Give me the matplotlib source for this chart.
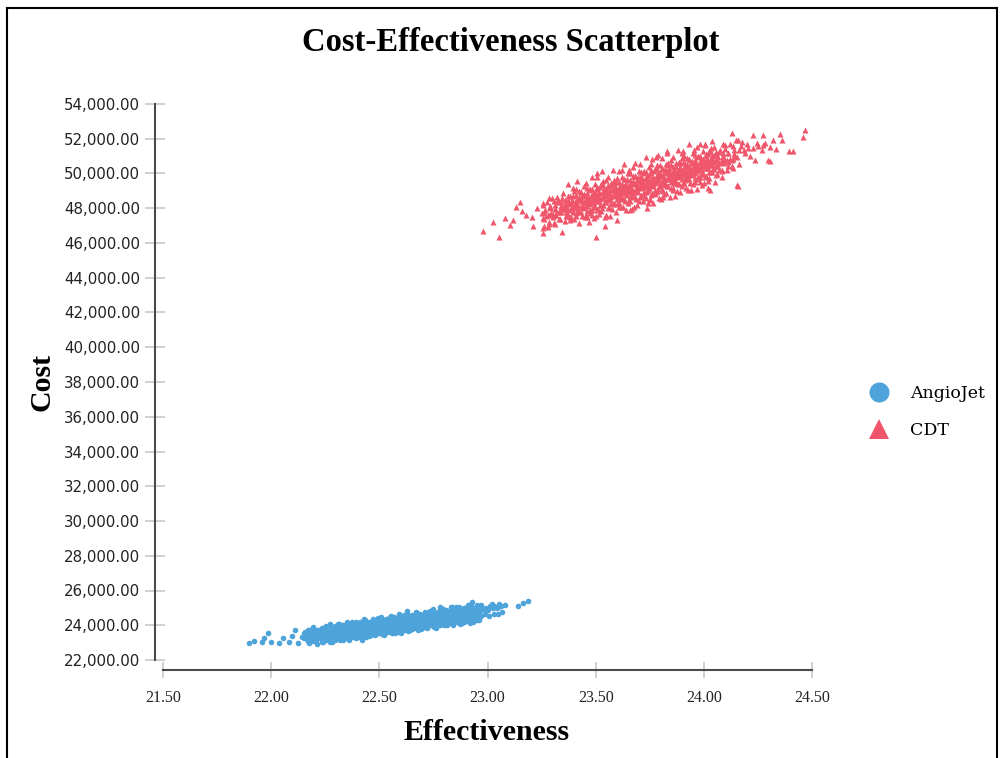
import matplotlib
matplotlib.use("Agg")
import matplotlib.pyplot as plt
from matplotlib.lines import Line2D

# ---------------- data ----------------
series_names = ["AngioJet", "CDT"]
x_ticks = [21.5, 22.0, 22.5, 23.0, 23.5, 24.0, 24.5]
y_ticks = [22000, 24000, 26000, 28000, 30000, 32000, 34000, 36000, 38000,
           40000, 42000, 44000, 46000, 48000, 50000, 52000, 54000]

angiojet_effect = [
    22.168, 22.154, 22.164, 22.151, 22.188, 22.174, 22.184, 22.171,
    22.208, 22.194, 22.204, 22.191, 22.228, 22.214, 22.224, 22.211,
    22.240, 22.248, 22.234, 22.244, 22.231, 22.250, 22.237,
    22.260, 22.268, 22.254, 22.264, 22.251, 22.270, 22.257,
    22.280, 22.288, 22.274, 22.284, 22.271, 22.290, 22.277,
    22.300, 22.308, 22.294, 22.304, 22.291, 22.310, 22.297,
    22.320, 22.328, 22.314, 22.324, 22.311, 22.330, 22.317,
    22.340, 22.348, 22.334, 22.344, 22.331, 22.350, 22.337,
    22.360, 22.368, 22.354, 22.364, 22.351, 22.370, 22.357,
    22.380, 22.388, 22.374, 22.384, 22.371, 22.390, 22.377,
    22.400, 22.408, 22.394, 22.404, 22.391, 22.410, 22.397,
    22.420, 22.428, 22.414, 22.424, 22.411, 22.430, 22.417,
    22.440, 22.448, 22.434, 22.444, 22.431, 22.450, 22.437,
    22.460, 22.468, 22.454, 22.464, 22.451, 22.470, 22.457,
    22.480, 22.488, 22.474, 22.484, 22.471, 22.490, 22.477,
    22.500, 22.508, 22.494, 22.504, 22.491, 22.510, 22.497,
    22.520, 22.528, 22.514, 22.524, 22.511, 22.530, 22.517,
    22.540, 22.548, 22.534, 22.544, 22.531, 22.550, 22.537,
    22.560, 22.568, 22.554, 22.564, 22.551, 22.570, 22.557,
    22.580, 22.588, 22.574, 22.584, 22.571, 22.590, 22.577,
    22.600, 22.608, 22.594, 22.604, 22.591, 22.610, 22.597,
    22.620, 22.628, 22.614, 22.624, 22.611, 22.630, 22.617,
    22.640, 22.648, 22.634, 22.644, 22.631, 22.650, 22.637,
    22.660, 22.668, 22.654, 22.664, 22.651, 22.670, 22.657,
    22.680, 22.688, 22.674, 22.684, 22.671, 22.690, 22.677,
    22.700, 22.708, 22.694, 22.704, 22.691, 22.710, 22.697,
    22.720, 22.728, 22.714, 22.724, 22.711, 22.730, 22.717,
    22.740, 22.748, 22.734, 22.744, 22.731, 22.750, 22.737,
    22.760, 22.768, 22.754, 22.764, 22.751, 22.770, 22.757,
    22.780, 22.788, 22.774, 22.784, 22.771, 22.790, 22.777,
    22.800, 22.808, 22.794, 22.804, 22.791, 22.810, 22.797,
    22.820, 22.828, 22.814, 22.824, 22.811, 22.830,
    22.840, 22.848, 22.834, 22.844, 22.831, 22.850,
    22.860, 22.868, 22.854, 22.864, 22.851, 22.870,
    22.880, 22.888, 22.874, 22.884, 22.871, 22.890,
    22.900, 22.908, 22.894, 22.904, 22.891, 22.910,
    22.920, 22.928, 22.914, 22.924, 22.911, 22.930,
    22.940, 22.948, 22.934, 22.944, 22.931, 22.950,
    22.960, 22.968, 22.954, 22.964, 22.951, 22.970,
    22.988, 22.984, 22.971, 23.008, 23.004, 22.991,
    23.028, 23.024, 23.011, 23.048, 23.044, 23.031,
    23.068, 23.064, 23.051,
    21.898, 21.921, 21.958, 21.967, 21.985, 21.999, 22.036, 22.055,
    22.082, 22.096, 22.110, 22.124, 22.143, 22.156, 22.170,
    23.141, 23.164, 23.187, 23.081, 23.049, 23.021, 22.928, 22.836,
    22.780, 22.628, 22.420, 22.586,
    22.173, 22.166, 22.176, 22.168, 22.175, 22.193, 22.186, 22.196, 22.188, 22.195,
    22.213, 22.206, 22.216, 22.208, 22.215, 22.233, 22.226, 22.236, 22.228, 22.235,
    22.253, 22.246, 22.256, 22.248, 22.255, 22.273, 22.266, 22.276, 22.268, 22.275,
    22.293, 22.286, 22.296, 22.288, 22.295, 22.313, 22.306, 22.316, 22.308, 22.315,
    22.333, 22.326, 22.336, 22.328, 22.335, 22.353, 22.346, 22.356, 22.348, 22.355,
    22.373, 22.366, 22.376, 22.368, 22.375, 22.393, 22.386, 22.396, 22.388, 22.395,
    22.413, 22.406, 22.416, 22.408, 22.415, 22.433, 22.426, 22.436, 22.428, 22.435,
    22.453, 22.446, 22.456, 22.448, 22.455, 22.473, 22.466, 22.476, 22.468, 22.475,
    22.493, 22.486, 22.496, 22.488, 22.495, 22.513, 22.506, 22.516, 22.508, 22.515,
    22.533, 22.526, 22.536, 22.528, 22.535, 22.553, 22.546, 22.556, 22.548, 22.555,
    22.573, 22.566, 22.576, 22.568, 22.575, 22.593, 22.586, 22.596, 22.588, 22.595,
    22.613, 22.606, 22.616, 22.608, 22.615, 22.633, 22.626, 22.636, 22.628, 22.635,
    22.653, 22.646, 22.656, 22.648, 22.655, 22.673, 22.666, 22.676, 22.668, 22.675,
    22.693, 22.686, 22.696, 22.688, 22.695, 22.713, 22.706, 22.716, 22.708, 22.715,
    22.733, 22.726, 22.736, 22.728, 22.735, 22.753, 22.746, 22.756, 22.748, 22.755,
    22.773, 22.766, 22.776, 22.768, 22.775, 22.793, 22.786, 22.796, 22.788, 22.795,
    22.813, 22.806, 22.816, 22.808, 22.815, 22.833, 22.826, 22.836, 22.828, 22.835,
    22.853, 22.846, 22.856, 22.848, 22.855, 22.873, 22.866, 22.876, 22.868, 22.875,
    22.893, 22.886, 22.896, 22.888, 22.895, 22.913, 22.906, 22.916, 22.908, 22.915,
    22.933, 22.926, 22.936, 22.928, 22.935, 22.953, 22.946, 22.956, 22.948, 22.955,
]
angiojet_cost = [
    23105, 23275, 23425, 23575, 23220, 23390, 23540, 23710,
    23125, 23305, 23455, 23605, 23250, 23420, 23570, 23730,
    23015, 23245, 23415, 23565, 23715, 23895, 23335,
    23150, 23360, 23530, 23680, 23850, 24070, 23470,
    23015, 23265, 23445, 23595, 23745, 23925, 23675,
    23180, 23390, 23560, 23710, 23870, 24070, 23300,
    23155, 23385, 23555, 23705, 23855, 24035, 23475,
    23290, 23500, 23670, 23820, 23990, 24210, 23610,
    23155, 23405, 23585, 23735, 23885, 24065, 23815,
    23320, 23530, 23700, 23850, 24010, 24210, 23440,
    23295, 23525, 23695, 23845, 23995, 24175, 23615,
    23430, 23640, 23810, 23960, 24130, 24350, 23750,
    23295, 23545, 23725, 23875, 24025, 24205, 23955,
    23460, 23670, 23840, 23990, 24150, 24350, 23580,
    23435, 23665, 23835, 23985, 24135, 24315, 23755,
    23570, 23780, 23950, 24100, 24270, 24490, 23890,
    23435, 23685, 23865, 24015, 24165, 24345, 24095,
    23600, 23810, 23980, 24130, 24290, 24490, 23720,
    23575, 23805, 23975, 24125, 24275, 24455, 23895,
    23710, 23920, 24090, 24240, 24410, 24630, 24030,
    23575, 23825, 24005, 24155, 24305, 24485, 24235,
    23740, 23950, 24120, 24270, 24430, 24630, 23860,
    23715, 23945, 24115, 24265, 24415, 24595, 24035,
    23850, 24060, 24230, 24380, 24550, 24770, 24170,
    23715, 23965, 24145, 24295, 24445, 24625, 24375,
    23880, 24090, 24260, 24410, 24570, 24770, 24000,
    23855, 24085, 24255, 24405, 24555, 24735, 24175,
    23990, 24200, 24370, 24520, 24690, 24910, 24310,
    23855, 24105, 24285, 24435, 24585, 24765, 24515,
    24020, 24230, 24400, 24550, 24710, 24910, 24140,
    23995, 24225, 24395, 24545, 24695, 24875, 24315,
    24130, 24340, 24510, 24660, 24830, 25050,
    23995, 24245, 24425, 24575, 24725, 24905,
    24160, 24370, 24540, 24690, 24850, 25050,
    24135, 24365, 24535, 24685, 24835, 25015,
    24270, 24480, 24650, 24800, 24970, 25190,
    24135, 24385, 24565, 24715, 24865, 25045,
    24300, 24510, 24680, 24830, 24990, 25190,
    24275, 24505, 24675, 24825, 24975, 25155,
    24620, 24940, 25110, 24525, 24855, 25005,
    24650, 24970, 25130, 24645, 24965, 25115,
    24760, 25080, 25250,
    22978, 23093, 23036, 23266, 23554, 23036, 22978, 23266,
    23036, 23381, 23727, 22978, 23324, 23611, 23151,
    25108, 25280, 25395, 25165, 25050, 25223, 25338, 25050,
    25050, 24820, 23151, 23611,
    22953, 23183, 23373, 23553, 23753, 23078, 23298, 23498, 23678, 23878,
    22943, 23183, 23383, 23573, 23753, 23058, 23288, 23478, 23658, 23858,
    23183, 23403, 23603, 23783, 23983, 23048, 23288, 23488, 23678, 23858,
    23163, 23393, 23583, 23763, 23963, 23288, 23508, 23708, 23888, 24088,
    23153, 23393, 23593, 23783, 23963, 23268, 23498, 23688, 23868, 24068,
    23393, 23613, 23813, 23993, 24193, 23258, 23498, 23698, 23888, 24068,
    23373, 23603, 23793, 23973, 24173, 23498, 23718, 23918, 24098, 24298,
    23363, 23603, 23803, 23993, 24173, 23478, 23708, 23898, 24078, 24278,
    23603, 23823, 24023, 24203, 24403, 23468, 23708, 23908, 24098, 24278,
    23583, 23813, 24003, 24183, 24383, 23708, 23928, 24128, 24308, 24508,
    23573, 23813, 24013, 24203, 24383, 23688, 23918, 24108, 24288, 24488,
    23813, 24033, 24233, 24413, 24613, 23678, 23918, 24118, 24308, 24488,
    23793, 24023, 24213, 24393, 24593, 23918, 24138, 24338, 24518, 24718,
    23783, 24023, 24223, 24413, 24593, 23898, 24128, 24318, 24498, 24698,
    24023, 24243, 24443, 24623, 24823, 23888, 24128, 24328, 24518, 24698,
    24003, 24233, 24423, 24603, 24803, 24128, 24348, 24548, 24728, 24928,
    23993, 24233, 24433, 24623, 24803, 24108, 24338, 24528, 24708, 24908,
    24233, 24453, 24653, 24833, 25033, 24098, 24338, 24538, 24728, 24908,
    24213, 24443, 24633, 24813, 25013, 24338, 24558, 24758, 24938, 25138,
    24203, 24443, 24643, 24833, 25013, 24318, 24548, 24738, 24918, 25118,
]

cdt_effect = [
    23.261, 23.255, 23.263, 23.258, 23.286, 23.280, 23.288, 23.283,
    23.311, 23.305, 23.313, 23.308,
    23.336, 23.317, 23.330, 23.313, 23.338, 23.321,
    23.361, 23.342, 23.355, 23.338, 23.363, 23.346,
    23.386, 23.367, 23.380, 23.363, 23.388, 23.371,
    23.400, 23.411, 23.392, 23.405, 23.388, 23.413, 23.396, 23.408,
    23.425, 23.436, 23.417, 23.430, 23.413, 23.438, 23.421, 23.433,
    23.450, 23.461, 23.442, 23.455, 23.438, 23.463, 23.446, 23.458, 23.440, 23.453,
    23.475, 23.486, 23.467, 23.480, 23.463, 23.488, 23.471, 23.483, 23.465, 23.478,
    23.500, 23.511, 23.492, 23.505, 23.488, 23.513, 23.496, 23.508, 23.490, 23.503,
    23.525, 23.536, 23.517, 23.530, 23.513, 23.538, 23.521, 23.533, 23.515, 23.528,
    23.550, 23.561, 23.542, 23.555, 23.538, 23.563, 23.546, 23.558, 23.540, 23.553,
    23.575, 23.586, 23.567, 23.580, 23.563, 23.588, 23.571, 23.583, 23.565, 23.578,
    23.600, 23.611, 23.592, 23.605, 23.588, 23.613, 23.596, 23.608, 23.590, 23.603,
    23.625, 23.636, 23.617, 23.630, 23.613, 23.638, 23.621, 23.633, 23.615, 23.628,
    23.650, 23.661, 23.642, 23.655, 23.638, 23.663, 23.646, 23.658, 23.640, 23.653,
    23.675, 23.686, 23.667, 23.680, 23.663, 23.688, 23.671, 23.683, 23.665, 23.678,
    23.700, 23.711, 23.692, 23.705, 23.688, 23.713, 23.696, 23.708, 23.690, 23.703,
    23.725, 23.736, 23.717, 23.730, 23.713, 23.738, 23.721, 23.733, 23.715, 23.728,
    23.750, 23.761, 23.742, 23.755, 23.738, 23.763, 23.746, 23.758, 23.740, 23.753,
    23.775, 23.786, 23.767, 23.780, 23.763, 23.788, 23.771, 23.783, 23.765, 23.778,
    23.800, 23.811, 23.792, 23.805, 23.788, 23.813, 23.796, 23.808, 23.790, 23.803,
    23.825, 23.836, 23.817, 23.830, 23.813, 23.838, 23.821, 23.833, 23.815, 23.828,
    23.850, 23.861, 23.842, 23.855, 23.838, 23.863, 23.846, 23.858, 23.840, 23.853,
    23.875, 23.886, 23.867, 23.880, 23.863, 23.888, 23.871, 23.883, 23.865, 23.878,
    23.900, 23.911, 23.892, 23.905, 23.888, 23.913, 23.896, 23.908, 23.890, 23.903,
    23.925, 23.936, 23.917, 23.930, 23.913, 23.938, 23.921, 23.933, 23.915, 23.928,
    23.950, 23.961, 23.942, 23.955, 23.938, 23.963, 23.946, 23.958, 23.940, 23.953,
    23.975, 23.986, 23.967, 23.980, 23.963, 23.988, 23.971, 23.983, 23.965, 23.978,
    24.000, 24.011, 23.992, 24.005, 23.988, 24.013, 23.996, 24.008, 23.990, 24.003,
    24.025, 24.036, 24.017, 24.030, 24.013, 24.038, 24.021, 24.033,
    24.050, 24.061, 24.042, 24.055, 24.038, 24.063, 24.046, 24.058,
    24.086, 24.067, 24.080, 24.063, 24.088, 24.071,
    24.111, 24.092, 24.105, 24.088, 24.113, 24.096,
    24.136, 24.130, 24.138, 24.133, 24.161, 24.155, 24.163, 24.158,
    22.979, 23.053, 23.025, 23.081, 23.104, 23.132, 23.150, 23.160,
    23.206, 23.210, 23.257, 23.252, 23.257, 23.289, 23.303, 23.326,
    23.344, 23.372, 23.414, 23.395, 23.502, 23.506, 23.543, 23.599,
    23.622, 23.673, 23.760, 23.788, 23.830, 23.899, 23.968, 24.005,
    24.038, 24.089, 24.130, 24.176, 24.227, 24.274, 24.274, 24.352,
    24.361, 24.394, 24.412, 24.458, 24.468, 24.297, 24.237, 24.153,
    24.029, 24.084, 23.751, 23.811, 23.737, 23.659, 23.460, 23.381,
    24.250, 24.283, 24.306, 24.269, 24.204, 24.190, 24.306, 24.158,
    24.019, 24.185, 24.215, 24.245, 24.200, 24.320, 24.335, 24.172,
    24.228, 23.180, 23.230, 23.120, 23.280,
    23.257, 23.261, 23.270, 23.264, 23.273, 23.282, 23.286, 23.295, 23.289, 23.298,
    23.307, 23.311, 23.320, 23.314, 23.323, 23.332, 23.336, 23.345, 23.339, 23.348,
    23.357, 23.372, 23.361, 23.370, 23.354, 23.364, 23.358, 23.373,
    23.382, 23.397, 23.386, 23.395, 23.379, 23.389, 23.383, 23.398,
    23.407, 23.422, 23.411, 23.420, 23.404, 23.414, 23.408, 23.423,
    23.432, 23.447, 23.436, 23.445, 23.429, 23.439, 23.433, 23.448,
    23.467, 23.457, 23.472, 23.461, 23.470, 23.454, 23.464, 23.458, 23.473, 23.456,
    23.492, 23.482, 23.497, 23.486, 23.495, 23.479, 23.489, 23.483, 23.498, 23.481,
    23.517, 23.507, 23.522, 23.511, 23.520, 23.504, 23.514, 23.508, 23.523, 23.506,
    23.542, 23.532, 23.547, 23.536, 23.545, 23.529, 23.539, 23.533, 23.548, 23.531,
    23.567, 23.557, 23.572, 23.561, 23.570, 23.554, 23.564, 23.558, 23.573, 23.556,
    23.592, 23.582, 23.597, 23.586, 23.595, 23.579, 23.589, 23.583, 23.598, 23.581,
    23.617, 23.607, 23.622, 23.611, 23.620, 23.604, 23.614, 23.608, 23.623, 23.606,
    23.642, 23.632, 23.647, 23.636, 23.645, 23.629, 23.639, 23.633, 23.648, 23.631,
    23.667, 23.657, 23.672, 23.661, 23.670, 23.654, 23.664, 23.658, 23.673, 23.656,
    23.692, 23.682, 23.697, 23.686, 23.695, 23.679, 23.689, 23.683, 23.698, 23.681,
    23.717, 23.707, 23.722, 23.711, 23.720, 23.704, 23.714, 23.708, 23.723, 23.706,
    23.742, 23.732, 23.747, 23.736, 23.745, 23.729, 23.739, 23.733, 23.748, 23.731,
    23.767, 23.757, 23.772, 23.761, 23.770, 23.754, 23.764, 23.758, 23.773, 23.756,
    23.792, 23.782, 23.797, 23.786, 23.795, 23.779, 23.789, 23.783, 23.798, 23.781,
    23.817, 23.807, 23.822, 23.811, 23.820, 23.804, 23.814, 23.808, 23.823, 23.806,
    23.842, 23.832, 23.847, 23.836, 23.845, 23.829, 23.839, 23.833, 23.848, 23.831,
    23.867, 23.857, 23.872, 23.861, 23.870, 23.854, 23.864, 23.858, 23.873, 23.856,
    23.892, 23.882, 23.897, 23.886, 23.895, 23.879, 23.889, 23.883, 23.898, 23.881,
    23.917, 23.907, 23.922, 23.911, 23.920, 23.904, 23.914, 23.908, 23.923, 23.906,
    23.942, 23.932, 23.947, 23.936, 23.945, 23.929, 23.939, 23.933, 23.948, 23.931,
    23.967, 23.957, 23.972, 23.961, 23.970, 23.954, 23.964, 23.958, 23.973, 23.956,
    23.992, 23.982, 23.997, 23.986, 23.995, 23.979, 23.989, 23.983, 23.998, 23.981,
    24.017, 24.007, 24.022, 24.011, 24.020, 24.004, 24.014, 24.008, 24.023, 24.006,
    24.032, 24.047, 24.036, 24.045, 24.029, 24.039, 24.033, 24.048,
    24.057, 24.072, 24.061, 24.070, 24.054, 24.064, 24.058, 24.073,
    24.082, 24.086, 24.095, 24.089, 24.098, 24.107, 24.111, 24.120, 24.114, 24.123,
    24.132, 24.136, 24.145, 24.139, 24.148,
]
cdt_cost = [
    47000, 47440, 47780, 48280, 47225, 47635, 48005, 48615,
    47100, 47600, 47950, 48410,
    47355, 47605, 47805, 47945, 48125, 48365,
    47580, 47770, 47940, 48130, 48310, 48580,
    47475, 47735, 47915, 48085, 48255, 48465,
    47370, 47700, 47930, 48110, 48290, 48480, 48730, 49090,
    47135, 47575, 47875, 48075, 48245, 48425, 48615, 48885,
    47480, 47830, 48080, 48280, 48420, 48600, 48840, 49160, 48190, 48700,
    47755, 48055, 48245, 48415, 48605, 48785, 49055, 47615, 48485, 48355,
    47570, 47950, 48210, 48390, 48560, 48730, 48940, 49230, 48090, 48620,
    47845, 48175, 48405, 48585, 48765, 48955, 49205, 49565, 48525, 48005,
    47610, 48050, 48350, 48550, 48720, 48900, 49090, 49360, 48990, 48460,
    47955, 48305, 48555, 48755, 48895, 49075, 49315, 49635, 48665, 49175,
    48230, 48530, 48720, 48890, 49080, 49260, 49530, 48090, 48960, 48830,
    48045, 48425, 48685, 48865, 49035, 49205, 49415, 49705, 48565, 49095,
    48320, 48650, 48880, 49060, 49240, 49430, 49680, 50040, 49000, 48480,
    48085, 48525, 48825, 49025, 49195, 49375, 49565, 49835, 49465, 48935,
    48430, 48780, 49030, 49230, 49370, 49550, 49790, 50110, 49140, 49650,
    48705, 49005, 49195, 49365, 49555, 49735, 50005, 48565, 49435, 49305,
    48520, 48900, 49160, 49340, 49510, 49680, 49890, 50180, 49040, 49570,
    48795, 49125, 49355, 49535, 49715, 49905, 50155, 50515, 49475, 48955,
    48560, 49000, 49300, 49500, 49670, 49850, 50040, 50310, 49940, 49410,
    48905, 49255, 49505, 49705, 49845, 50025, 50265, 50585, 49615, 50125,
    49180, 49480, 49670, 49840, 50030, 50210, 50480, 49040, 49910, 49780,
    48995, 49375, 49635, 49815, 49985, 50155, 50365, 50655, 49515, 50045,
    49270, 49600, 49830, 50010, 50190, 50380, 50630, 50990, 49950, 49430,
    49035, 49475, 49775, 49975, 50145, 50325, 50515, 50785, 50415, 49885,
    49380, 49730, 49980, 50180, 50320, 50500, 50740, 51060, 50090, 50600,
    49655, 49955, 50145, 50315, 50505, 50685, 50955, 49515, 50385, 50255,
    49470, 49850, 50110, 50290, 50460, 50630, 50840, 51130, 49990, 50520,
    49745, 50075, 50305, 50485, 50665, 50855, 51105, 51465,
    49510, 49950, 50250, 50450, 50620, 50800, 50990, 51260,
    50205, 50455, 50655, 50795, 50975, 51215,
    50430, 50620, 50790, 50980, 51160, 51430,
    50325, 50765, 51105, 51605, 50550, 50960, 51330, 51940,
    46689, 46344, 47207, 47437, 47034, 48070, 48358, 47840,
    47495, 46977, 46574, 47725, 48185, 48070, 47495, 48473,
    46631, 49394, 49566, 49164, 46344, 50027, 46977, 47322,
    50200, 50372, 50833, 51063, 51178, 51178, 51523, 51638,
    51868, 51696, 52329, 51811, 52214, 52214, 51638, 52271,
    51926, 51293, 51293, 52099, 52502, 50775, 50775, 49336,
    49049, 49797, 48473, 48646, 48013, 47898, 47495, 47322,
    51581, 51753, 51523, 51351, 51466, 51178, 50717, 49279,
    49164, 51380, 51020, 51750, 51700, 51950, 51420, 51560,
    51480, 47600, 48000, 47300, 46900,
    46870, 47390, 47570, 47910, 48340, 47115, 47595, 47755, 48115, 48615,
    47150, 47640, 47810, 48160, 48630, 47405, 47815, 47975, 48335, 48875,
    47250, 47540, 47770, 47950, 48120, 48290, 48480, 48720,
    47495, 47775, 47975, 48135, 48305, 48495, 48715, 48995,
    47530, 47810, 48020, 48190, 48360, 48540, 48740, 49010,
    47785, 48005, 48195, 48355, 48525, 48715, 48945, 49255,
    47180, 47630, 47920, 48150, 48330, 48500, 48670, 48860, 49100, 49430,
    47425, 47875, 48155, 48355, 48515, 48685, 48875, 49095, 49375, 49825,
    47670, 47910, 48190, 48400, 48570, 48740, 48920, 49120, 49390, 49770,
    47515, 48165, 48385, 48575, 48735, 48905, 49095, 49325, 49635, 50165,
    47560, 48010, 48300, 48530, 48710, 48880, 49050, 49240, 49480, 49810,
    47805, 48255, 48535, 48735, 48895, 49065, 49255, 49475, 49755, 50205,
    48050, 48290, 48570, 48780, 48950, 49120, 49300, 49500, 49770, 50150,
    47895, 48545, 48765, 48955, 49115, 49285, 49475, 49705, 50015, 50545,
    47940, 48390, 48680, 48910, 49090, 49260, 49430, 49620, 49860, 50190,
    48185, 48635, 48915, 49115, 49275, 49445, 49635, 49855, 50135, 50585,
    48430, 48670, 48950, 49160, 49330, 49500, 49680, 49880, 50150, 50530,
    48275, 48925, 49145, 49335, 49495, 49665, 49855, 50085, 50395, 50925,
    48320, 48770, 49060, 49290, 49470, 49640, 49810, 50000, 50240, 50570,
    48565, 49015, 49295, 49495, 49655, 49825, 50015, 50235, 50515, 50965,
    48810, 49050, 49330, 49540, 49710, 49880, 50060, 50260, 50530, 50910,
    48655, 49305, 49525, 49715, 49875, 50045, 50235, 50465, 50775, 51305,
    48700, 49150, 49440, 49670, 49850, 50020, 50190, 50380, 50620, 50950,
    48945, 49395, 49675, 49875, 50035, 50205, 50395, 50615, 50895, 51345,
    49190, 49430, 49710, 49920, 50090, 50260, 50440, 50640, 50910, 51290,
    49035, 49685, 49905, 50095, 50255, 50425, 50615, 50845, 51155, 51685,
    49080, 49530, 49820, 50050, 50230, 50400, 50570, 50760, 51000, 51330,
    49325, 49775, 50055, 50255, 50415, 50585, 50775, 50995, 51275, 51725,
    49570, 49810, 50090, 50300, 50470, 50640, 50820, 51020, 51290, 51670,
    50065, 50285, 50475, 50635, 50805, 50995, 51225, 51535,
    49910, 50200, 50430, 50610, 50780, 50950, 51140, 51380,
    50155, 50635, 50795, 51155, 51655, 50190, 50680, 50850, 51200, 51670,
    50445, 50855, 51015, 51375, 51915,
]

# ---------------- styling ----------------
BLUE = "#4da3da"
RED = "#f0566b"
SERIF = ["Liberation Serif", "DejaVu Serif"]
W, H = 1001, 758

fig = plt.figure(figsize=(W / 100, H / 100), dpi=100)
ax = fig.add_axes([163 / W, 1 - 660 / H, (812 - 163) / W, (660 - 104) / H])

ax.scatter(angiojet_effect, angiojet_cost, s=16, marker="o", color=BLUE,
           linewidths=0, zorder=3)
ax.scatter(cdt_effect, cdt_cost, s=19, marker="^", color=RED,
           linewidths=0, zorder=3)

ax.set_xlim(21.5, 24.5)
ax.set_ylim(22000, 54000)
ax.set_xticks(x_ticks)
ax.set_xticklabels([f"{v:.2f}" for v in x_ticks])
ax.set_yticks(y_ticks)
ax.set_yticklabels([f"{v:,.2f}" for v in y_ticks])

for s in ("top", "right"):
    ax.spines[s].set_visible(False)
ax.spines["left"].set_position(("outward", 8 * 0.72))
ax.spines["bottom"].set_position(("outward", 10 * 0.72))
for s in ("left", "bottom"):
    ax.spines[s].set_color("#4a4a4a")
    ax.spines[s].set_linewidth(1.5)

ax.tick_params(axis="y", direction="inout", length=14.4, width=1.1,
               color="#c4c4c4", pad=3.5, labelcolor="#222222")
ax.tick_params(axis="x", direction="inout", length=11.5, width=1.1,
               color="#c4c4c4", pad=9, labelcolor="#222222")

for lab in ax.get_xticklabels():
    lab.set_fontfamily(SERIF)
    lab.set_fontsize(11.5)
for lab in ax.get_yticklabels():
    lab.set_fontfamily("DejaVu Sans")
    lab.set_fontsize(10.8)

fig.text(511 / W, 1 - 42 / H, "Cost-Effectiveness Scatterplot", ha="center",
         va="center", family=SERIF, fontweight="bold", fontsize=23.5)
fig.text(487 / W, 1 - 732 / H, "Effectiveness", ha="center", va="center",
         family=SERIF, fontweight="bold", fontsize=21.5)
fig.text(42 / W, 1 - 382 / H, "Cost", ha="center", va="center", rotation=90,
         family=SERIF, fontweight="bold", fontsize=21.5)

handles = [
    Line2D([], [], linestyle="None", marker="o", markersize=14.4,
           markerfacecolor=BLUE, markeredgewidth=0),
    Line2D([], [], linestyle="None", marker="^", markersize=14.4,
           markerfacecolor=RED, markeredgewidth=0),
]
fig.legend(handles, series_names, loc="center left",
           bbox_to_anchor=(870 / W, 1 - 412 / H), frameon=False,
           prop={"family": ["DejaVu Serif"], "size": 12.5}, handlelength=1.0,
           handletextpad=1.3, labelspacing=1.15, borderpad=0,
           borderaxespad=0)

# outer frame (left, top, right)
for xs, ys in (([7, 7], [758, 8]), ([7, 997], [8, 8]), ([997, 997], [8, 758])):
    fig.add_artist(Line2D([x / W for x in xs], [1 - y / H for y in ys],
                          color="black", linewidth=1.5,
                          transform=fig.transFigure))

fig.savefig("out.png", dpi=100)
